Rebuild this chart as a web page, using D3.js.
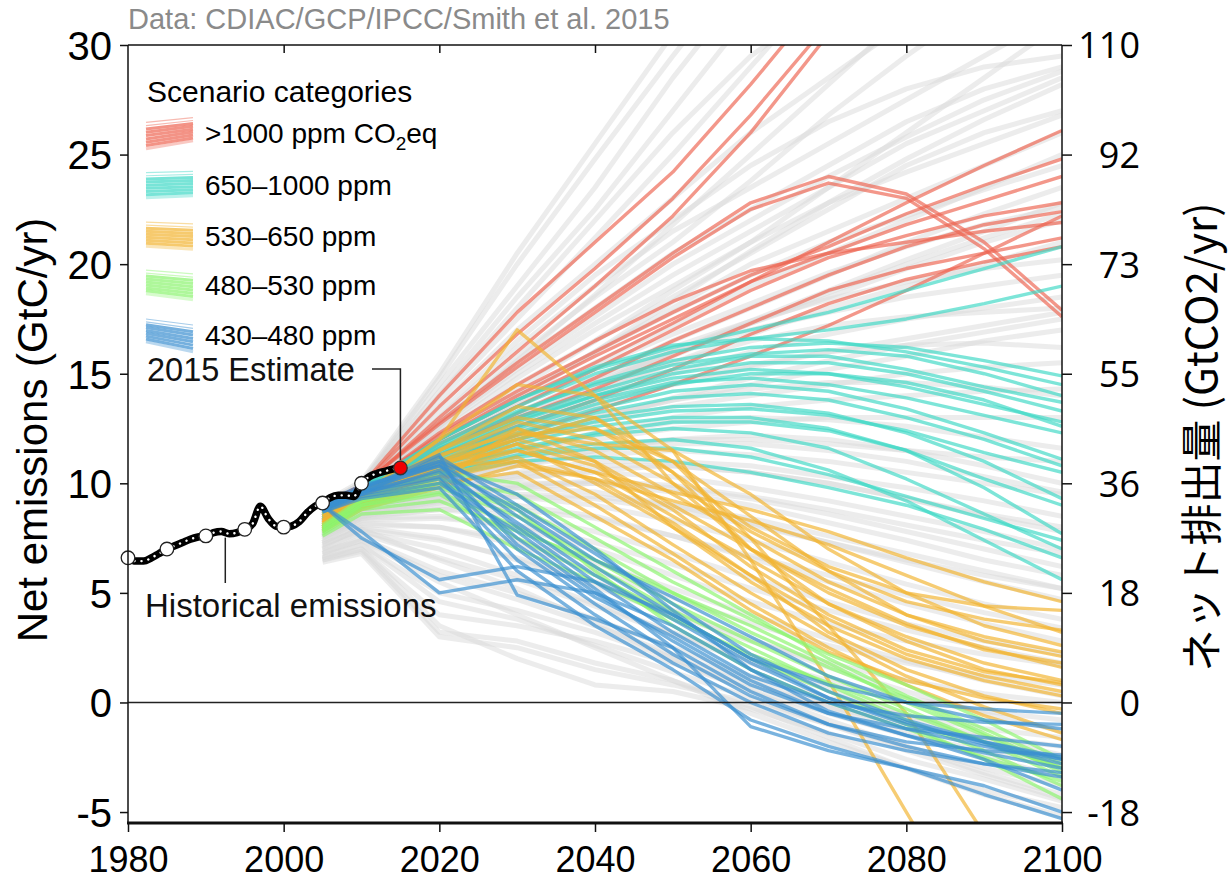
<!DOCTYPE html>
<html>
<head>
<meta charset="utf-8">
<script src="https://cdn.jsdelivr.net/npm/d3@7"></script>
<style>
  body { margin: 0; background: #fff; }
  svg { display: block; }
</style>
</head>
<body>
<svg id="chart" width="1229" height="880"></svg>
<script>
// ---------- data ----------
const scenarioYears = [2005, 2010, 2020, 2030, 2040, 2050, 2060, 2070, 2080, 2090, 2100];

const histYears = [1980, 1981, 1982, 1983, 1984, 1985, 1986, 1987, 1988, 1989,
                   1990, 1991, 1992, 1993, 1994, 1995, 1996, 1997, 1998, 1999,
                   2000, 2001, 2002, 2003, 2004, 2005, 2006, 2007, 2008, 2009,
                   2010, 2011, 2012, 2013, 2014, 2015];
const histValues = [6.6, 6.45, 6.45, 6.6, 6.8, 7.0, 7.15, 7.3, 7.45, 7.55,
                    7.6, 7.75, 7.8, 7.7, 7.75, 7.9, 8.15, 8.95, 8.4, 8.05,
                    8.0, 8.05, 8.25, 8.65, 8.95, 9.1, 9.35, 9.45, 9.45, 9.4,
                    10.0, 10.3, 10.45, 10.55, 10.65, 10.7];
const histMarkerYears = [1980, 1985, 1990, 1995, 2000, 2005, 2010];
const estimateYear = 2015;

// uncategorised scenarios (grey background)
const otherScenarios = [
  [9.1, 10.1, 15.0, 20.5, 25.5, 30.5, 35.0, 39.0, 43.0, 47.0, 51.0],
  [9.0, 10.0, 14.8, 20.0, 24.8, 29.5, 34.0, 38.0, 42.0, 46.0, 50.0],
  [9.0, 10.0, 14.5, 19.0, 23.5, 28.5, 33.0, 37.0, 41.0, 45.0, 49.0],
  [9.0, 10.0, 14.2, 18.5, 22.5, 27.0, 31.5, 35.0, 39.0, 43.0, 47.0],
  [8.9, 9.9, 14.0, 18.0, 22.0, 26.0, 29.5, 32.0, 34.0, 36.0, 38.0],
  [8.9, 9.9, 13.8, 17.5, 21.2, 25.0, 29.0, 33.0, 37.0, 41.0, 45.0],
  [8.9, 9.8, 13.5, 17.0, 20.0, 23.0, 26.0, 28.5, 31.0, 34.0, 37.0],
  [8.8, 9.8, 13.2, 16.5, 19.5, 22.0, 24.5, 26.5, 28.0, 29.0, 29.5],
  [8.8, 9.8, 13.0, 16.2, 19.0, 21.5, 23.5, 25.5, 27.5, 29.5, 31.5],
  [8.8, 9.7, 12.8, 15.5, 18.0, 20.5, 22.5, 24.5, 26.5, 28.0, 29.0],
  [8.7, 9.7, 12.6, 15.2, 17.6, 20.0, 22.0, 24.0, 25.8, 27.5, 28.8],
  [8.7, 9.6, 12.5, 15.0, 17.3, 19.5, 21.5, 23.5, 25.5, 27.0, 28.5],
  [8.7, 9.6, 12.2, 14.5, 16.5, 18.5, 20.5, 22.5, 24.5, 26.0, 27.0],
  [8.6, 9.6, 12.3, 14.8, 17.0, 19.0, 21.0, 22.8, 24.2, 25.5, 26.8],
  [8.6, 9.5, 12.0, 14.0, 16.0, 18.0, 20.0, 21.5, 23.0, 24.5, 26.0],
  [8.6, 9.5, 11.8, 13.6, 15.5, 17.2, 19.0, 20.5, 22.0, 23.5, 25.0],
  [8.5, 9.5, 11.9, 14.0, 16.0, 17.8, 19.5, 21.0, 22.2, 23.4, 24.5],
  [8.5, 9.4, 11.5, 13.2, 14.8, 16.5, 18.0, 19.5, 21.0, 22.3, 23.5],
  [8.4, 9.4, 11.6, 13.6, 15.3, 16.8, 18.2, 19.6, 20.8, 21.8, 22.6],
  [8.5, 9.4, 11.3, 13.0, 14.5, 16.0, 17.3, 18.5, 19.8, 21.0, 22.0],
  [8.4, 9.3, 11.0, 12.5, 14.0, 15.5, 16.8, 18.0, 19.0, 20.0, 21.0],
  [8.3, 9.3, 11.3, 13.2, 14.8, 16.2, 17.4, 18.4, 19.2, 19.8, 20.2],
  [8.4, 9.3, 11.0, 12.8, 14.5, 16.0, 17.0, 17.8, 18.5, 19.0, 19.5],
  [8.3, 9.2, 10.8, 12.3, 13.8, 15.0, 16.0, 16.8, 17.5, 18.0, 18.5],
  [8.2, 9.2, 11.1, 12.8, 14.2, 15.5, 16.5, 17.2, 17.6, 17.8, 18.0],
  [8.3, 9.2, 10.8, 12.0, 13.0, 13.8, 14.5, 15.2, 15.8, 16.5, 17.0],
  [8.2, 9.1, 10.9, 12.4, 13.6, 14.6, 15.4, 16.0, 16.3, 16.4, 16.2],
  [8.2, 9.1, 10.5, 11.8, 12.8, 13.5, 14.0, 14.5, 15.0, 15.3, 15.5],
  [8.1, 9.0, 10.6, 11.9, 13.0, 13.8, 14.3, 14.6, 14.6, 14.4, 14.0],
  [8.2, 9.1, 10.5, 11.5, 12.3, 13.0, 13.5, 13.8, 14.0, 14.2, 14.3],
  [8.1, 9.0, 10.3, 11.3, 12.0, 12.5, 12.8, 13.0, 13.0, 13.0, 13.0],
  [8.0, 8.9, 10.3, 11.4, 12.2, 12.8, 13.0, 12.9, 12.6, 12.1, 11.6],
  [8.1, 9.0, 10.2, 11.0, 11.7, 12.0, 12.0, 11.8, 11.5, 11.2, 11.0],
  [8.0, 8.9, 10.0, 10.8, 11.3, 11.5, 11.3, 11.0, 10.5, 10.0, 9.5],
  [7.9, 8.8, 10.0, 10.9, 11.5, 11.8, 11.8, 11.5, 11.0, 10.3, 9.6],
  [8.0, 8.9, 9.8, 10.5, 11.0, 11.0, 10.8, 10.3, 9.8, 9.2, 8.5],
  [7.8, 8.7, 9.7, 10.4, 10.8, 10.8, 10.5, 10.0, 9.3, 8.6, 8.0],
  [7.9, 8.8, 9.7, 10.3, 10.5, 10.3, 9.8, 9.2, 8.5, 7.8, 7.0],
  [7.7, 8.6, 9.4, 9.9, 10.1, 9.9, 9.4, 8.8, 8.1, 7.4, 6.8],
  [7.9, 8.8, 9.5, 10.0, 10.0, 9.6, 9.0, 8.2, 7.4, 6.5, 5.8],
  [7.6, 8.5, 9.1, 9.4, 9.3, 8.8, 8.1, 7.3, 6.5, 5.8, 5.2],
  [7.8, 8.7, 9.4, 9.8, 9.6, 9.0, 8.2, 7.3, 6.4, 5.5, 4.7],
  [7.8, 8.6, 9.2, 9.4, 9.0, 8.3, 7.4, 6.4, 5.4, 4.5, 3.8],
  [7.5, 8.4, 8.8, 8.8, 8.4, 7.6, 6.7, 5.8, 4.9, 4.1, 3.4],
  [7.7, 8.6, 9.0, 9.0, 8.5, 7.6, 6.6, 5.5, 4.5, 3.6, 2.8],
  [7.6, 8.5, 8.8, 8.5, 7.8, 6.8, 5.7, 4.6, 3.6, 2.8, 2.2],
  [7.4, 8.3, 8.4, 8.1, 7.3, 6.3, 5.2, 4.2, 3.3, 2.5, 1.8],
  [7.5, 8.4, 8.5, 8.0, 7.0, 5.8, 4.6, 3.6, 2.8, 2.2, 1.7],
  [7.3, 8.1, 8.0, 7.4, 6.4, 5.2, 4.0, 2.9, 1.9, 1.0, 0.3],
  [7.3, 8.2, 8.0, 7.2, 6.0, 4.8, 3.6, 2.6, 1.8, 1.2, 0.8],
  [7.2, 7.9, 7.4, 6.6, 5.5, 4.2, 2.9, 1.6, 0.5, -0.5, -1.3],
  [7.1, 8.0, 7.5, 6.5, 5.3, 4.0, 2.8, 1.8, 1.0, 0.4, 0.0],
  [7.0, 7.7, 6.6, 5.6, 4.4, 3.1, 1.8, 0.6, -0.6, -1.6, -2.4],
  [7.0, 7.8, 7.0, 5.8, 4.5, 3.2, 2.0, 1.0, 0.2, -0.4, -0.8],
  [6.8, 7.4, 5.8, 4.7, 3.5, 2.2, 1.0, -0.2, -1.4, -2.5, -3.4],
  [6.8, 7.5, 6.0, 5.0, 3.8, 2.5, 1.2, 0.2, -0.6, -1.2, -1.6],
  [6.7, 7.2, 4.6, 3.8, 2.6, 1.4, 0.2, -1.0, -2.2, -3.3, -4.4],
  [6.6, 7.2, 5.0, 4.2, 3.2, 2.0, 0.8, -0.2, -1.0, -1.6, -2.0],
  [6.5, 7.0, 4.0, 3.5, 2.8, 1.8, 0.6, -0.5, -1.5, -2.2, -2.8],
  [6.5, 6.9, 3.2, 2.8, 1.8, 1.0, -0.2, -1.6, -3.0, -4.2, -5.2],
  [6.4, 6.8, 3.0, 2.5, 1.5, 0.8, 0.0, -1.0, -2.0, -3.0, -3.8],
  [6.6, 7.0, 3.5, 2.0, 0.8, 0.5, -0.3, -1.4, -2.6, -3.5, -4.5],
  [6.9, 7.4, 5.5, 4.0, 2.5, 1.0, -0.5, -1.8, -3.0, -4.0, -4.8],
  [7.2, 7.9, 6.5, 5.2, 3.6, 2.0, 0.5, -0.8, -2.0, -3.2, -4.2],
  [8.0, 8.9, 10.0, 10.8, 11.5, 12.0, 12.2, 12.0, 11.5, 10.8, 10.0],
  [7.8, 8.7, 9.6, 10.2, 10.6, 10.8, 10.5, 10.0, 9.3, 8.5, 7.8],
  [7.7, 8.6, 9.3, 9.8, 10.0, 9.8, 9.3, 8.6, 7.8, 7.0, 6.2],
  [7.6, 8.5, 9.2, 9.5, 9.4, 9.0, 8.4, 7.6, 6.8, 6.0, 5.2],
  [8.0, 8.9, 10.4, 11.8, 12.9, 13.9, 14.8, 15.6, 16.3, 16.9, 17.5],
  [8.2, 9.1, 10.8, 12.3, 13.5, 14.5, 15.3, 16.0, 16.6, 17.2, 17.8],
  [8.1, 9.0, 10.8, 12.6, 14.2, 15.8, 17.3, 18.7, 20.0, 21.2, 22.3],
  [8.3, 9.2, 11.2, 13.0, 14.6, 16.0, 17.4, 18.8, 20.2, 21.5, 22.8],
  [8.3, 9.2, 11.5, 13.8, 16.0, 18.3, 20.6, 22.8, 24.8, 26.6, 28.2],
  [8.5, 9.4, 12.0, 14.3, 16.5, 18.8, 21.0, 23.5, 26.0, 28.5, 31.0],
  [8.6, 9.6, 12.6, 15.6, 18.6, 21.8, 25.0, 28.2, 31.4, 34.0, 36.5],
  [8.7, 9.6, 12.8, 15.8, 18.5, 21.0, 23.8, 26.8, 29.5, 32.0, 34.0]
];

// >1000 ppm CO2eq
const scenarios1000 = [
  [9.0, 9.9, 14.0, 17.8, 21.0, 24.2, 28.2, 32.5, 37.0, 41.0, 45.0],
  [9.0, 9.9, 13.5, 16.8, 19.8, 23.0, 26.8, 31.0, 35.0, 39.0, 43.0],
  [8.9, 9.8, 13.0, 16.0, 19.0, 22.2, 26.0, 30.5, 35.0, 39.0, 43.0],
  [8.8, 9.7, 12.0, 13.8, 15.5, 17.3, 19.2, 21.0, 22.8, 24.5, 26.1],
  [8.8, 9.7, 12.2, 14.2, 16.0, 17.8, 19.5, 20.8, 22.3, 23.6, 24.8],
  [9.0, 9.9, 12.8, 15.5, 18.0, 20.5, 22.8, 24.0, 23.2, 21.0, 17.9],
  [9.0, 9.9, 12.7, 15.3, 17.8, 20.3, 22.5, 23.7, 23.0, 20.7, 17.6],
  [8.9, 9.8, 12.0, 14.0, 15.8, 17.5, 19.2, 20.5, 21.8, 22.9, 24.0],
  [8.8, 9.6, 11.8, 13.5, 15.2, 17.0, 18.8, 20.3, 21.3, 22.2, 22.8],
  [8.7, 9.6, 11.5, 13.2, 14.8, 16.5, 18.0, 19.5, 20.8, 21.8, 22.4],
  [8.9, 9.7, 12.3, 14.5, 16.5, 18.3, 19.7, 20.5, 21.0, 21.5, 21.9],
  [8.8, 9.6, 11.6, 13.0, 14.3, 15.8, 17.3, 18.8, 19.8, 20.5, 21.2],
  [8.7, 9.5, 11.3, 12.6, 13.8, 15.2, 16.8, 18.2, 19.3, 20.1, 20.8],
  [8.6, 9.4, 11.0, 12.2, 13.3, 14.5, 15.8, 17.2, 18.8, 20.5, 22.2]
];

// 650–1000 ppm
const scenarios650 = [
  [8.9, 9.8, 12.0, 13.8, 15.2, 16.2, 17.0, 17.8, 18.8, 19.8, 20.8],
  [8.9, 9.8, 11.8, 13.5, 15.0, 16.0, 16.6, 17.0, 17.5, 18.2, 19.0],
  [8.8, 9.7, 11.6, 13.2, 14.6, 15.6, 16.2, 16.4, 16.2, 15.6, 14.9],
  [8.8, 9.7, 11.5, 13.0, 14.2, 15.2, 15.8, 15.8, 15.2, 14.4, 13.7],
  [8.7, 9.6, 11.3, 12.8, 14.0, 15.0, 15.5, 15.5, 15.0, 14.2, 13.3],
  [8.7, 9.6, 11.2, 12.6, 13.8, 14.6, 14.8, 14.5, 13.9, 13.1, 12.3],
  [8.6, 9.5, 11.0, 12.3, 13.4, 14.2, 14.5, 14.2, 13.4, 12.3, 11.1],
  [8.6, 9.5, 11.0, 12.2, 13.2, 13.9, 14.1, 13.8, 13.0, 12.0, 10.8],
  [8.5, 9.4, 10.8, 12.0, 13.0, 13.5, 13.6, 13.2, 12.3, 11.0, 9.3],
  [8.5, 9.4, 10.8, 11.8, 12.6, 13.0, 13.0, 12.5, 11.5, 9.8, 7.7],
  [8.4, 9.3, 10.6, 11.5, 12.2, 12.5, 12.3, 11.6, 10.2, 8.6, 7.0],
  [8.4, 9.3, 10.5, 11.3, 11.8, 12.0, 11.6, 10.6, 9.2, 7.4, 5.6],
  [8.8, 9.7, 11.7, 13.3, 14.5, 15.4, 15.9, 16.1, 15.8, 15.0, 14.0],
  [8.7, 9.6, 11.4, 12.9, 14.0, 14.8, 15.2, 15.0, 14.4, 13.6, 12.8],
  [8.6, 9.5, 11.1, 12.5, 13.6, 14.5, 15.0, 15.0, 14.6, 13.8, 12.6],
  [8.5, 9.4, 10.9, 12.0, 12.8, 13.3, 13.4, 13.1, 12.4, 11.4, 10.5],
  [8.4, 9.3, 10.6, 11.6, 12.3, 12.8, 12.8, 12.4, 11.5, 10.2, 9.0],
  [8.3, 9.2, 10.4, 11.2, 11.6, 11.6, 11.2, 10.4, 9.4, 8.4, 7.4],
  [8.9, 9.8, 12.0, 13.8, 15.3, 16.3, 16.6, 16.5, 16.0, 15.3, 14.5],
  [8.3, 9.2, 10.3, 11.0, 11.2, 11.0, 10.5, 9.8, 9.0, 7.9, 6.6]
];

// 530–650 ppm
const scenarios530 = [
  [8.6, 9.5, 12.0, 14.5, 14.0, 11.5, 6.5, 1.0, -5.0, -11.0, -16.0],
  [8.5, 9.4, 11.5, 13.5, 13.0, 11.0, 7.5, 3.5, -0.5, -6.0, -11.0],
  [8.2, 9.2, 11.0, 12.5, 11.5, 9.5, 7.5, 5.5, 4.0, 3.0, 2.3],
  [8.1, 9.1, 10.8, 12.0, 11.0, 9.0, 7.0, 5.2, 3.6, 2.4, 1.8],
  [8.1, 9.1, 10.5, 11.5, 10.5, 8.5, 6.5, 4.5, 3.0, 1.8, 1.0],
  [8.0, 9.0, 10.5, 11.8, 10.0, 8.0, 5.8, 3.8, 2.2, 1.2, 0.5],
  [8.0, 9.0, 10.3, 11.2, 9.5, 7.2, 5.0, 3.0, 1.2, -0.2, -1.4],
  [7.9, 8.9, 10.2, 11.0, 9.0, 6.8, 4.5, 2.5, 0.8, -0.6, -1.7],
  [8.3, 9.3, 11.5, 13.0, 12.5, 10.5, 8.0, 6.2, 5.0, 4.4, 4.2],
  [8.2, 9.2, 11.2, 12.8, 12.0, 10.0, 7.8, 6.0, 4.6, 3.8, 3.3],
  [8.1, 9.1, 10.8, 12.2, 12.5, 11.0, 8.5, 6.0, 4.0, 2.8, 2.1],
  [8.5, 9.4, 12.0, 17.0, 14.0, 10.0, 7.0, 5.0, 3.5, 2.5, 1.6],
  [8.0, 9.0, 10.0, 10.5, 8.5, 6.5, 4.2, 2.3, 1.0, 0.2, -0.3],
  [7.9, 8.9, 10.0, 12.5, 11.0, 8.0, 5.5, 3.5, 2.0, 1.0, 0.3],
  [8.2, 9.2, 11.0, 12.0, 13.0, 10.5, 7.0, 4.5, 2.8, 1.5, 0.8],
  [8.3, 9.3, 11.3, 12.3, 11.8, 11.5, 9.5, 7.0, 5.0, 3.5, 2.6],
  [8.0, 9.0, 10.6, 11.8, 10.8, 8.8, 6.2, 4.0, 2.4, 1.4, 0.9],
  [7.8, 8.8, 9.8, 10.8, 10.2, 8.2, 5.8, 3.2, 1.5, 0.3, -0.5],
  [8.4, 9.3, 11.0, 11.5, 10.5, 9.6, 8.8, 7.8, 6.6, 5.5, 4.6],
  [8.3, 9.2, 10.8, 11.0, 10.2, 9.2, 8.3, 7.2, 5.8, 4.4, 3.2]
];

// 480–530 ppm
const scenarios480 = [
  [8.0, 9.2, 10.2, 9.5, 7.5, 5.5, 3.8, 2.2, 0.8, -0.8, -2.6],
  [7.9, 9.1, 10.0, 9.0, 7.0, 5.0, 3.2, 1.6, 0.2, -1.4, -3.0],
  [7.9, 9.0, 9.8, 8.5, 6.5, 4.5, 2.8, 1.2, -0.3, -1.8, -3.4],
  [7.8, 9.0, 9.6, 8.0, 6.2, 4.2, 2.5, 0.8, -0.8, -2.2, -3.8],
  [7.8, 8.9, 9.5, 7.5, 5.8, 4.0, 2.0, 0.5, -1.0, -2.6, -4.4],
  [8.1, 9.3, 10.5, 10.0, 8.0, 6.0, 4.0, 2.0, 0.3, -1.2, -2.8],
  [7.7, 8.8, 9.2, 7.8, 6.5, 5.0, 3.5, 1.8, 0.0, -1.5, -3.2],
  [8.0, 9.2, 10.0, 8.8, 6.0, 3.5, 1.5, 0.0, -1.2, -2.5, -3.6],
  [7.6, 8.6, 8.8, 7.0, 5.5, 3.8, 2.2, 0.9, -0.5, -1.8, -3.0]
];

// 430–480 ppm
const scenarios430 = [
  [9.0, 9.8, 11.0, 8.5, 6.2, 4.0, 2.0, 0.8, 0.0, -0.3, -0.5],
  [9.0, 9.7, 10.8, 8.0, 5.5, 3.2, 1.2, 0.0, -0.6, -0.9, -1.0],
  [8.9, 9.6, 10.5, 7.5, 5.0, 2.8, 0.8, -0.5, -1.2, -1.6, -2.0],
  [8.9, 9.6, 10.3, 7.0, 4.5, 2.2, 0.3, -1.0, -1.8, -2.2, -2.4],
  [8.8, 9.5, 10.2, 6.5, 4.0, 1.8, 0.0, -1.4, -2.2, -2.8, -3.2],
  [8.8, 9.5, 11.2, 9.0, 6.8, 4.5, 2.2, 0.5, -0.8, -1.8, -2.6],
  [8.9, 9.7, 11.3, 4.9, 3.8, 2.5, 0.5, -1.0, -2.0, -2.8, -3.4],
  [9.0, 9.8, 11.0, 9.5, 7.0, 4.2, 1.5, -0.4, -1.5, -2.3, -3.0],
  [8.7, 9.4, 10.0, 7.8, 5.2, 2.5, -1.1, -2.2, -3.0, -3.8, -5.0],
  [8.7, 9.3, 9.8, 6.0, 3.5, 1.5, -0.8, -2.0, -3.0, -4.2, -5.3],
  [9.0, 7.5, 5.6, 6.2, 5.5, 4.0, 2.0, 0.2, -1.0, -1.8, -2.5],
  [9.0, 7.8, 5.0, 5.6, 5.0, 3.5, 1.5, 0.0, -1.2, -2.0, -2.6],
  [9.1, 9.9, 10.8, 8.8, 6.5, 4.8, 3.0, 1.2, 0.0, -0.8, -1.2],
  [8.8, 9.5, 10.6, 8.2, 5.8, 3.8, 1.8, 0.2, -0.9, -1.9, -2.8],
  [8.9, 9.6, 10.9, 7.2, 4.8, 3.0, 1.0, -0.5, -1.5, -2.6, -4.0]
];

const categoryLabels = [">1000 ppm CO", "650–1000 ppm", "530–650 ppm", "480–530 ppm", "430–480 ppm"];
const categoryColors = ["#ee6553", "#3fd8c6", "#f2b431", "#8cf46f", "#3a8fd0"];
const categorySeries = [scenarios1000, scenarios650, scenarios530, scenarios480, scenarios430];

const leftTicks = [-5, 0, 5, 10, 15, 20, 25, 30];
const rightTickLabels = ["-18", "0", "18", "36", "55", "73", "92", "110"];
const yearTicks = [1980, 2000, 2020, 2040, 2060, 2080, 2100];

// ---------- layout ----------
const svg = d3.select("#chart");
const L = 128, R = 1062, T = 45, B = 823;
const x = d3.scaleLinear().domain([1980, 2100]).range([L, R]);
const y = d3.scaleLinear().domain([-5.5, 30]).range([B, T]);
const sansFont = "'Liberation Sans', Arial, Helvetica, sans-serif";

svg.append("defs").append("clipPath").attr("id", "plotClip")
  .append("rect").attr("x", L).attr("y", T).attr("width", R - L).attr("height", B - T);

const plot = svg.append("g").attr("clip-path", "url(#plotClip)");
const scenarioLine = d3.line()
  .x((d, i) => x(scenarioYears[i]))
  .y(d => y(d));

// grey background scenarios
plot.append("g").selectAll("path").data(otherScenarios).join("path")
  .attr("d", scenarioLine)
  .attr("fill", "none")
  .attr("stroke", "#dadada")
  .attr("stroke-width", 5)
  .attr("stroke-opacity", 0.5)
  .attr("stroke-linejoin", "round");

// coloured categories
categorySeries.forEach((series, ci) => {
  plot.append("g").selectAll("path").data(series).join("path")
    .attr("d", scenarioLine)
    .attr("fill", "none")
    .attr("stroke", categoryColors[ci])
    .attr("stroke-width", 3.4)
    .attr("stroke-opacity", 0.68)
    .attr("stroke-linejoin", "round");
});

// zero line
svg.append("line")
  .attr("x1", L).attr("x2", R).attr("y1", y(0)).attr("y2", y(0))
  .attr("stroke", "#222").attr("stroke-width", 1.5);

// ---------- historical emissions ----------
const histPts = histYears.map((yr, i) => [yr, histValues[i]]);
const histLine = d3.line().x(d => x(d[0])).y(d => y(d[1])).curve(d3.curveMonotoneX);
svg.append("path").datum(histPts)
  .attr("d", histLine).attr("fill", "none")
  .attr("stroke", "#000").attr("stroke-width", 7.5)
  .attr("stroke-linejoin", "round").attr("stroke-linecap", "round");
svg.append("path").datum(histPts)
  .attr("d", histLine).attr("fill", "none")
  .attr("stroke", "#fff").attr("stroke-width", 2.4)
  .attr("stroke-dasharray", "0.1 7").attr("stroke-linecap", "round");

svg.append("g").selectAll("circle")
  .data(histMarkerYears).join("circle")
  .attr("cx", d => x(d))
  .attr("cy", d => y(histValues[histYears.indexOf(d)]))
  .attr("r", 6.8)
  .attr("fill", "#fff").attr("stroke", "#222").attr("stroke-width", 1.3);

const estVal = histValues[histYears.indexOf(estimateYear)];
svg.append("circle")
  .attr("cx", x(estimateYear)).attr("cy", y(estVal)).attr("r", 6.8)
  .attr("fill", "#f00000").attr("stroke", "#333").attr("stroke-width", 1.3);

// annotations
svg.append("text")
  .attr("x", 147).attr("y", 381)
  .attr("font-family", sansFont).attr("font-size", 32.5).attr("fill", "#111")
  .text("2015 Estimate");
svg.append("path")
  .attr("d", `M372,369 H${x(estimateYear)} V${y(estVal) - 8}`)
  .attr("fill", "none").attr("stroke", "#222").attr("stroke-width", 1.5);

svg.append("text")
  .attr("x", 145).attr("y", 617)
  .attr("font-family", sansFont).attr("font-size", 33).attr("fill", "#111")
  .text("Historical emissions");
svg.append("line")
  .attr("x1", x(1992.5)).attr("x2", x(1992.5))
  .attr("y1", y(7.75) + 5).attr("y2", 583)
  .attr("stroke", "#222").attr("stroke-width", 1.5);

// ---------- frame & axes ----------
const frame = svg.append("g").attr("stroke", "#111").attr("fill", "none");
frame.append("line").attr("x1", L).attr("x2", R).attr("y1", T).attr("y2", T).attr("stroke-width", 1.5);
frame.append("line").attr("x1", L).attr("x2", L).attr("y1", T).attr("y2", B).attr("stroke-width", 1.5);
frame.append("line").attr("x1", R).attr("x2", R).attr("y1", T).attr("y2", B).attr("stroke-width", 1.5);
frame.append("line").attr("x1", L - 1).attr("x2", R + 1).attr("y1", B).attr("y2", B).attr("stroke-width", 3);

// bottom axis
const xAxis = svg.append("g").attr("transform", `translate(0,${B})`)
  .call(d3.axisBottom(x).tickValues(yearTicks).tickFormat(d => String(d)).tickSize(9).tickSizeOuter(0));
xAxis.select(".domain").remove();
xAxis.selectAll("line").attr("stroke", "#111").attr("stroke-width", 1.5);
xAxis.selectAll("text")
  .attr("font-family", sansFont).attr("font-size", 36).attr("fill", "#000")
  .attr("dy", null).attr("y", 49);

// top ticks pointing inward
const topAxis = svg.append("g").attr("transform", `translate(0,${T})`)
  .call(d3.axisBottom(x).tickValues(yearTicks.slice(1, -1)).tickFormat("").tickSize(8).tickSizeOuter(0));
topAxis.select(".domain").remove();
topAxis.selectAll("line").attr("stroke", "#111").attr("stroke-width", 1.5);

// left axis
const yAxis = svg.append("g").attr("transform", `translate(${L},0)`)
  .call(d3.axisLeft(y).tickValues(leftTicks).tickFormat(d => String(d)).tickSize(8).tickPadding(8).tickSizeOuter(0));
yAxis.select(".domain").remove();
yAxis.selectAll("line").attr("stroke", "#111").attr("stroke-width", 1.5);
yAxis.selectAll("text")
  .attr("font-family", sansFont).attr("font-size", 40).attr("fill", "#000")
  .attr("dy", "0.36em");

// right axis (GtCO2)
const yAxisR = svg.append("g").attr("transform", `translate(${R},0)`)
  .call(d3.axisRight(y).tickValues(leftTicks)
    .tickFormat((d, i) => rightTickLabels[i]).tickSize(10).tickSizeOuter(0));
yAxisR.select(".domain").remove();
yAxisR.selectAll("line").attr("stroke", "#111").attr("stroke-width", 1.5);
yAxisR.selectAll("text")
  .attr("font-family", "'Open Sans', 'Noto Sans', sans-serif").attr("font-size", 36)
  .attr("fill", "#000").attr("text-anchor", "end").attr("x", 78).attr("dy", "0.36em");

// axis titles
svg.append("text")
  .attr("transform", "translate(47,430) rotate(-90)")
  .attr("text-anchor", "middle")
  .attr("font-family", sansFont).attr("font-size", 42).attr("fill", "#000")
  .text("Net emissions (GtC/yr)");

svg.append("text")
  .attr("transform", "translate(1217,437) rotate(-90)")
  .attr("text-anchor", "middle")
  .attr("font-family", "'Noto Sans CJK JP', 'Noto Sans', sans-serif").attr("font-size", 42).attr("fill", "#000")
  .text("ネット排出量 (GtCO2/yr)");

// source line
svg.append("text")
  .attr("x", 128).attr("y", 29)
  .attr("font-family", sansFont).attr("font-size", 29).attr("fill", "#8a8a8a")
  .text("Data: CDIAC/GCP/IPCC/Smith et al. 2015");

// ---------- legend ----------
const legend = svg.append("g");
legend.append("text")
  .attr("x", 147).attr("y", 102)
  .attr("font-family", sansFont).attr("font-size", 30).attr("fill", "#000")
  .text("Scenario categories");

const legendCenters = [133, 185, 236, 285, 335];
const swatchTilt = [-8, -2, 3, 6, 10];
categoryLabels.forEach((lab, ci) => {
  const cy = legendCenters[ci];
  const sw = legend.append("g");
  for (let k = 0; k < 9; k++) {
    const off = -13 + k * 3.1;
    const t = swatchTilt[ci] * (0.6 + 0.05 * k);
    sw.append("line")
      .attr("x1", 146).attr("x2", 193)
      .attr("y1", cy + off - t / 2).attr("y2", cy + off + t / 2)
      .attr("stroke", categoryColors[ci])
      .attr("stroke-width", k < 2 ? 1.2 : 3)
      .attr("stroke-opacity", k < 2 ? 0.45 : (k > 7 ? 0.35 : 0.7));
  }
  const txt = legend.append("text")
    .attr("x", 205).attr("y", cy + 10)
    .attr("font-family", sansFont).attr("font-size", 28).attr("fill", "#000")
    .text(lab);
  if (ci === 0) {
    txt.append("tspan").attr("font-size", 19).attr("dy", 7).text("2");
    txt.append("tspan").attr("dy", -7).text("eq");
  }
});
</script>
</body>
</html>
